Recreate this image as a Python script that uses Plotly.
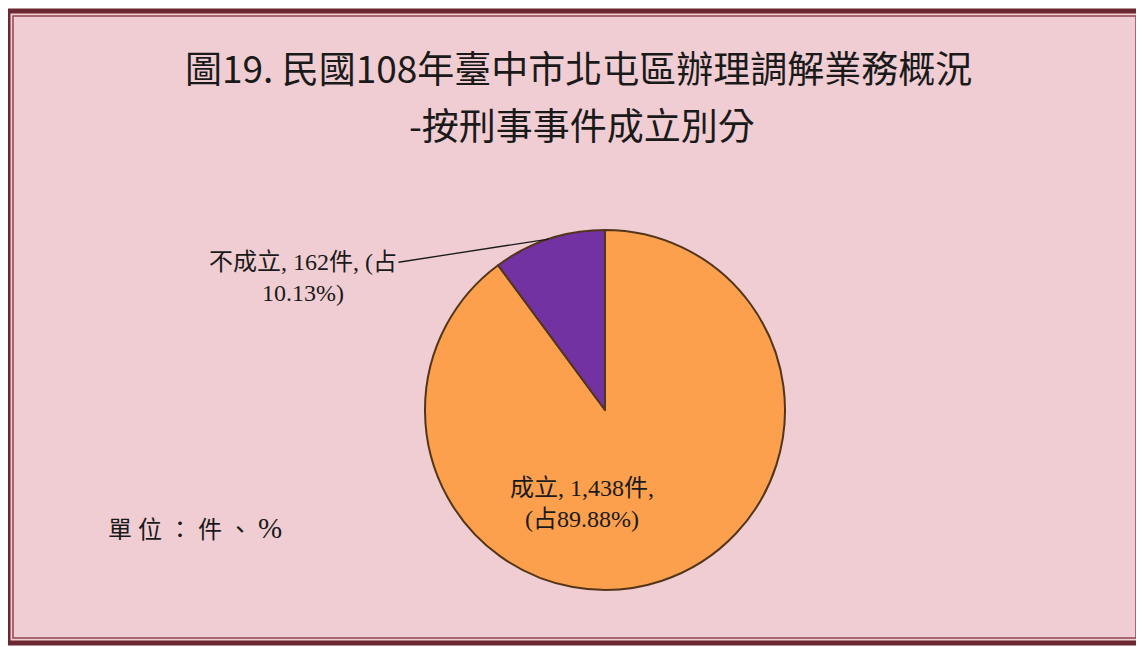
import math
import plotly.graph_objects as go

# ---- data ----
categories = ["成立", "不成立"]
counts = [1438, 162]
shares = [89.88, 10.13]
colors = ["#FCA04D", "#7232A2"]
title_lines = ["圖19. 民國108年臺中市北屯區辦理調解業務概況", "-按刑事事件成立別分"]
unit_label = "單 位 ： 件 、"
unit_pct = "%"

# page has an 8px body margin; figure drawn inside it
OFF = 8
W, H = 1144 - OFF, 647 - OFF
def px(x):
    return (x - OFF) / W
def py(y):
    return 1 - (y - OFF) / H

# pie geometry (screen pixels)
cx, cy, r = 605, 410, 180

fig = go.Figure()
fig.add_trace(go.Pie(
    labels=categories,
    values=counts,
    sort=False,
    direction="clockwise",
    rotation=0,
    marker=dict(colors=colors, line=dict(color="#53351A", width=2)),
    textinfo="none",
    hoverinfo="label+value+percent",
    showlegend=False,
    domain=dict(x=[px(cx - r), px(cx + r)], y=[py(cy + r), py(cy - r)]),
))

shapes = [
    dict(type="rect", xref="paper", yref="paper",
         x0=px(8), x1=px(1141), y0=py(643), y1=py(11),
         line=dict(color="#6B2832", width=5), fillcolor="#F0CDD2", layer="below"),
    dict(type="rect", xref="paper", yref="paper",
         x0=px(13), x1=px(1136), y0=py(638), y1=py(16),
         line=dict(color="#8E4650", width=1.5), fillcolor="rgba(0,0,0,0)", layer="below"),
]

label_font = dict(family="Liberation Serif, Noto Sans CJK TC, serif", size=24, color="#1A1A1A")

def fmt_count(v):
    return f"{v:,}"

annotations = [
    dict(text=title_lines[0], x=px(578), y=py(67), xref="paper", yref="paper",
         xanchor="center", yanchor="middle",
         showarrow=False, font=dict(family="Noto Sans CJK TC", size=37, color="#1A1A1A")),
    dict(text=title_lines[1], x=px(582), y=py(124), xref="paper", yref="paper",
         xanchor="center", yanchor="middle",
         showarrow=False, font=dict(family="Noto Sans CJK TC", size=37, color="#1A1A1A")),
    dict(text=unit_label + " <span style='font-size:29px'>" + unit_pct + "</span>",
         x=px(106), y=py(528), xref="paper", yref="paper",
         xanchor="left", yanchor="middle",
         showarrow=False, font=dict(family="Liberation Serif, Noto Sans CJK TC, serif", size=24, color="#1A1A1A")),
    dict(text=f"{categories[0]}, {fmt_count(counts[0])}件,<br>(占{shares[0]:.2f}%)",
         x=px(582), y=py(503), xref="paper", yref="paper",
         xanchor="center", yanchor="middle",
         showarrow=False, font=label_font),
]

# leader line tip at middle of the purple slice edge
frac = counts[1] / sum(counts)
phi = math.pi * frac
tip_x = cx - r * math.sin(phi)
tip_y = cy - r * math.cos(phi)
annotations.append(dict(
    text=f"{categories[1]}, {counts[1]}件, (占<br>{shares[1]:.2f}%)",
    x=px(tip_x), y=py(tip_y), xref="paper", yref="paper",
    showarrow=True, arrowhead=0, arrowwidth=1.3, arrowcolor="#1A1A1A",
    ax=303 - tip_x, ay=277 - tip_y, font=label_font,
))

fig.update_layout(
    width=W, height=H,
    margin=dict(l=0, r=0, t=0, b=0),
    paper_bgcolor="white",
    plot_bgcolor="white",
    shapes=shapes,
    annotations=annotations,
)

fig.write_html("out.html")
